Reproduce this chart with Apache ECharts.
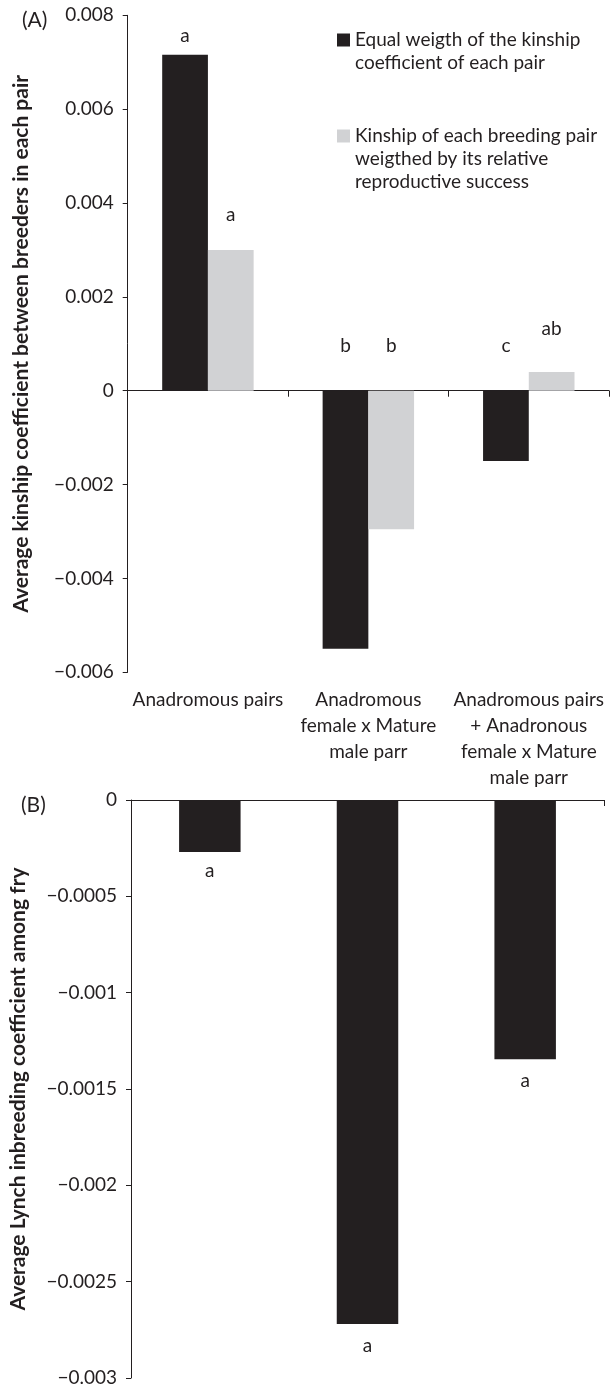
<!DOCTYPE html>
<html>
<head>
<meta charset="utf-8">
<title>Kinship and inbreeding</title>
<script src="https://cdn.jsdelivr.net/npm/echarts@6/dist/echarts.min.js"></script>
<style>
  html, body { margin: 0; padding: 0; background: #fff; }
  #chart { width: 611px; height: 1388px; }
</style>
</head>
<body>
<div id="chart"></div>
<script>
// (A) average kinship between breeders
var categoriesA = ["Anadromous pairs", "Anadromous\nfemale x Mature\nmale parr", "Anadromous pairs\n+ Anadronous\nfemale x Mature\nmale parr"];
var equalWeight = [0.00716, -0.0055, -0.0015];
var weightedRS = [0.0030, -0.00295, 0.0004];
var lettersEqual = ["a", "b", "c"];
var lettersWeighted = ["a", "b", "ab"];

// (B) average Lynch inbreeding among fry
var categoriesB = ["Anadromous pairs", "Anadromous female x Mature male parr", "Anadromous pairs + Anadronous female x Mature male parr"];
var lynchF = [-0.00027, -0.00272, -0.001345];
var lettersB = ["a", "a", "a"];

var nameEqual = "Equal weigth of the kinship\ncoefficient of each pair";
var nameWeighted = "Kinship of each breeding pair\nweigthed by its relative\nreproductive success";

var ink = "#231f20";
var font = "Lato";

// how far each letter sits from its bar end
var gapEqual = [9, 35, 35];
var gapWeighted = [26, 35, 34];
var gapB = [9, 12, 12];

function lettered(values, letters, gaps, pos) {
  return values.map(function (v, i) {
    return { value: v, label: { show: true, formatter: letters[i], position: pos, distance: gaps[i] } };
  });
}

function tickLabel(v) {
  if (v === 0) return "0";
  return String(v).replace("-", "\u2212");
}

// the legend square sits on the first line: pad the text block with blank lines on top
function legendText(name) {
  var lines = name.split("\n").length;
  var pad = "";
  for (var i = 1; i < lines; i++) pad += "\n";
  return pad + name;
}

var chart = echarts.init(document.getElementById("chart"));

var valueAxisBase = {
  type: "value",
  axisLine: { show: true, lineStyle: { color: ink, width: 1 } },
  axisTick: { show: true, length: 5, lineStyle: { color: ink } },
  splitLine: { show: false },
  axisLabel: { color: ink, fontSize: 19, fontFamily: font, margin: 14, formatter: tickLabel },
  nameLocation: "middle",
  nameTextStyle: { color: ink, fontSize: 21, fontWeight: 700, fontFamily: font }
};

chart.setOption({
  animation: false,
  textStyle: { fontFamily: font, color: ink },
  title: [
    { text: "(A)", left: 17, top: 5, textStyle: { fontSize: 21, fontWeight: "normal", color: ink } },
    { text: "(B)", left: 16, top: 790, textStyle: { fontSize: 21, fontWeight: "normal", color: ink } }
  ],
  legend: [
    {
      data: [nameEqual], left: 337, top: 5.5, padding: 0, orient: "vertical",
      itemWidth: 13, itemHeight: 13, icon: "rect", selectedMode: false,
      formatter: legendText,
      textStyle: { fontSize: 19, color: ink, lineHeight: 23 }
    },
    {
      data: [nameWeighted], left: 337, top: 78.5, padding: 0, orient: "vertical",
      itemWidth: 13, itemHeight: 13, icon: "rect", selectedMode: false,
      formatter: legendText,
      textStyle: { fontSize: 19, color: ink, lineHeight: 23 }
    }
  ],
  grid: [
    { left: 127.7, top: 15.3, width: 481.3, height: 657 },
    { left: 130, top: 800, width: 474, height: 578 }
  ],
  xAxis: [
    {
      gridIndex: 0, type: "category", data: categoriesA, position: "bottom",
      axisLine: { show: false, onZero: false }, axisTick: { show: false },
      axisLabel: { color: ink, fontSize: 19, fontFamily: font, lineHeight: 26, margin: 15, interval: 0 }
    },
    {
      gridIndex: 0, type: "category", data: categoriesA, position: "bottom",
      axisLine: { show: true, onZero: true, lineStyle: { color: ink } },
      axisTick: { show: true, length: 6, lineStyle: { color: ink } },
      axisLabel: { show: false }
    },
    {
      gridIndex: 1, type: "category", data: categoriesB, position: "top",
      axisLine: { show: true, onZero: true, lineStyle: { color: ink } },
      axisTick: { show: true, inside: true, length: 6, lineStyle: { color: ink } },
      axisLabel: { show: false }
    }
  ],
  yAxis: [
    Object.assign({}, valueAxisBase, {
      gridIndex: 0, min: -0.006, max: 0.008, interval: 0.002, nameGap: 96,
      name: "Average kinship coefficient between breeders in each pair"
    }),
    Object.assign({}, valueAxisBase, {
      gridIndex: 1, min: -0.003, max: 0, interval: 0.0005, nameGap: 102,
      name: "Average Lynch inbreeding coefficient among fry"
    })
  ],
  series: [
    {
      name: nameEqual, type: "bar", xAxisIndex: 0, yAxisIndex: 0,
      barGap: "0%", barCategoryGap: "43%",
      itemStyle: { color: ink },
      label: { fontSize: 19, color: ink },
      data: lettered(equalWeight, lettersEqual, gapEqual, "top")
    },
    {
      name: nameWeighted, type: "bar", xAxisIndex: 0, yAxisIndex: 0,
      barGap: "0%", barCategoryGap: "43%",
      itemStyle: { color: "#d1d2d4" },
      label: { fontSize: 19, color: ink },
      data: lettered(weightedRS, lettersWeighted, gapWeighted, "top")
    },
    {
      name: "Lynch", type: "bar", xAxisIndex: 2, yAxisIndex: 1,
      barCategoryGap: "61%",
      itemStyle: { color: ink },
      label: { fontSize: 19, color: ink },
      data: lettered(lynchF, lettersB, gapB, "bottom")
    }
  ]
});
</script>
</body>
</html>
